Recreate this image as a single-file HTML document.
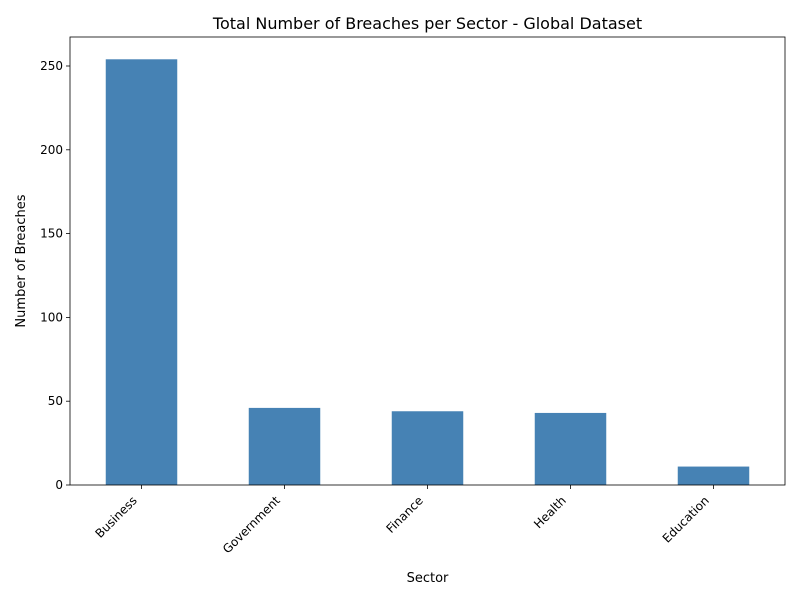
<!DOCTYPE html>
<html><head><meta charset="utf-8"><style>
body{margin:0;background:#fff;font-family:"Liberation Sans","DejaVu Sans",sans-serif}
</style></head><body>
<svg width="800" height="600" xmlns="http://www.w3.org/2000/svg" font-family="DejaVu Sans, Liberation Sans, sans-serif">
<rect width="800" height="600" fill="#fff"/>
<text x="427.5" y="29" text-anchor="middle" font-size="16" fill="#000">Total Number of Breaches per Sector - Global Dataset</text>
<g id="plot"></g>
<text x="427.5" y="582" text-anchor="middle" font-size="13">Sector</text>
<text transform="translate(25,261) rotate(-90)" text-anchor="middle" font-size="13">Number of Breaches</text>
</svg>
<script>
const categories = ["Business","Government","Finance","Health","Education"];
const values = [254, 46, 44, 43, 11];
const yTicks = [0, 50, 100, 150, 200, 250];
const L=70,R=785,T=37,B=485,yMax=267.3;
const ns="http://www.w3.org/2000/svg";
const g=document.getElementById('plot');
const x=i=>L+(i+0.5)*(R-L)/categories.length;
const y=v=>B-v/yMax*(B-T);
function mk(t,a){const e=document.createElementNS(ns,t);for(const k in a)e.setAttribute(k,a[k]);g.appendChild(e);return e;}
const bw=0.5*(R-L)/categories.length;
categories.forEach((c,i)=>{
  const b=mk('rect',{x:x(i)-bw/2,y:y(values[i]),width:bw,height:B-y(values[i]),fill:'#4682b4'});
  
  
  const tk=mk('line',{x1:x(i),x2:x(i),y1:B,y2:B+4,stroke:'#000','stroke-width':0.8});
  
  
  const t=mk('text',{transform:`translate(${x(i)-10},${B+10}) rotate(-45)`,'text-anchor':'end','font-size':12,'dominant-baseline':'hanging'});
  t.textContent=c;
  
  
});
yTicks.forEach(v=>{
  const tk=mk('line',{x1:L-4,x2:L,y1:y(v),y2:y(v),stroke:'#000','stroke-width':0.8});
  
  
  const t=mk('text',{x:L-7,y:y(v)+4,'text-anchor':'end','font-size':12});
  t.textContent=v;
  
  
});
const f=mk('rect',{x:L,y:T,width:R-L,height:B-T,fill:'none',stroke:'#000','stroke-width':0.8});


</script>
</body></html>
